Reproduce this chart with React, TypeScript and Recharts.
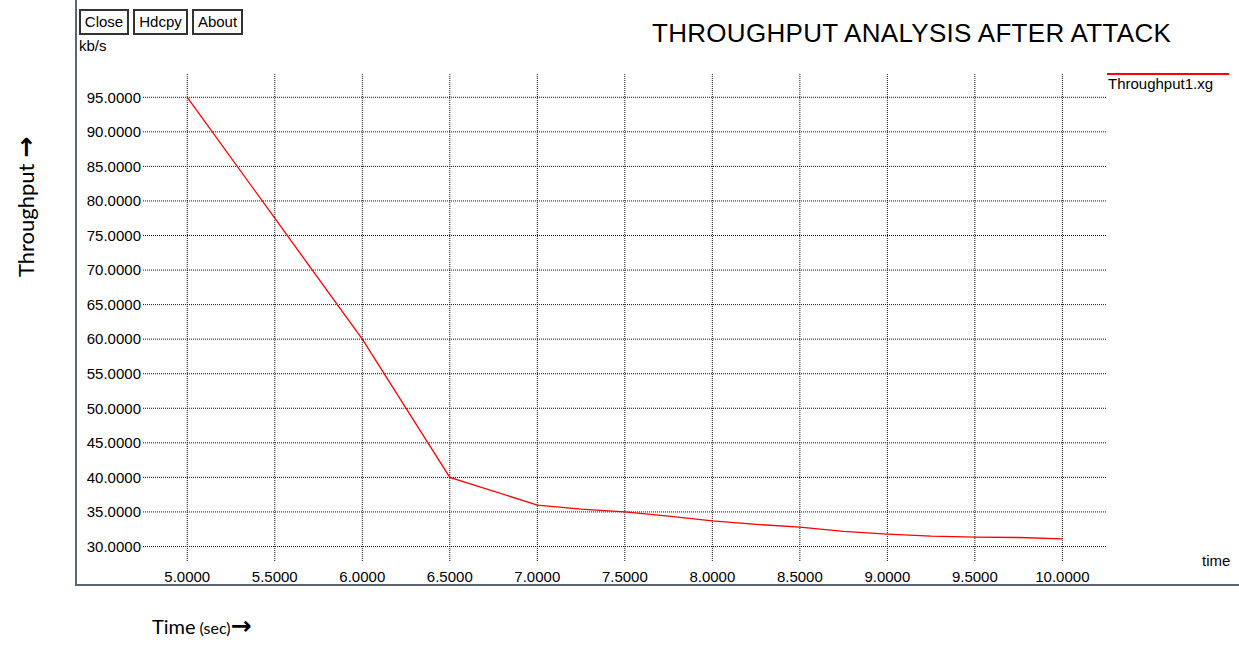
import React from "react";
import { Line, LineChart, ReferenceLine, XAxis, YAxis } from "recharts";

// time (s) and throughput (kb/s)
const times = [5, 5.5, 6, 6.5, 7, 7.25, 7.5, 7.75, 8, 8.25, 8.5, 8.75, 9, 9.25, 9.5, 9.75, 10];
const throughput = [95, 77.5, 60, 40, 36.0, 35.4, 35.0, 34.4, 33.7, 33.2, 32.8, 32.2, 31.8, 31.5, 31.35, 31.3, 31.1];

const xTicks = [5, 5.5, 6, 6.5, 7, 7.5, 8, 8.5, 9, 9.5, 10];
const yTicks = [30, 35, 40, 45, 50, 55, 60, 65, 70, 75, 80, 85, 90, 95];
const seriesName = "Throughput1.xg";
const buttons = ["Close", "Hdcpy", "About"];

const data = times.map((t, i) => ({ t, v: throughput[i] }));

const XG_FONT = "'Liberation Sans', Arial, sans-serif";
const DOC_FONT = "Lato, 'Open Sans', sans-serif";
const ARROW_FONT = "'DejaVu Sans', sans-serif";

export default function App() {
  return (
    <div
      style={{
        position: "absolute",
        left: 0,
        top: 0,
        width: 1239,
        height: 654,
        background: "#fff",
        overflow: "hidden",
      }}
    >
      {/* xgraph window frame */}
      <div style={{ position: "absolute", left: 75, top: 0, width: 2, height: 586, background: "#5c6670" }} />
      <div style={{ position: "absolute", left: 75, top: 584, width: 1164, height: 2, background: "#5c6670" }} />

      {buttons.map((b, i) => (
        <div
          key={b}
          style={{
            position: "absolute",
            left: [79, 133, 192][i],
            top: 9,
            width: [50, 55, 51][i],
            height: 26,
            boxSizing: "border-box",
            border: "2px solid #333",
            fontFamily: XG_FONT,
            fontSize: 15,
            lineHeight: "22px",
            textAlign: "center",
            color: "#000",
          }}
        >
          {b}
        </div>
      ))}

      <div style={{ position: "absolute", left: 79, top: 37, fontFamily: XG_FONT, fontSize: 15, color: "#000" }}>
        kb/s
      </div>
      <div
        style={{
          position: "absolute",
          left: 652,
          top: 18,
          fontFamily: XG_FONT,
          fontSize: 26,
          letterSpacing: 0.3,
          color: "#000",
          whiteSpace: "nowrap",
        }}
      >
        THROUGHPUT ANALYSIS AFTER ATTACK
      </div>
      <div style={{ position: "absolute", left: 1202, top: 552, fontFamily: XG_FONT, fontSize: 15, color: "#000" }}>
        time
      </div>

      {/* legend */}
      <div style={{ position: "absolute", left: 1107, top: 73, width: 122, height: 2, background: "#ff0000" }} />
      <div style={{ position: "absolute", left: 1108, top: 75, fontFamily: XG_FONT, fontSize: 15, color: "#000" }}>
        {seriesName}
      </div>

      <LineChart
        width={1239}
        height={654}
        data={data}
        margin={{ top: 74, right: 132, bottom: 63, left: 0 }}
        style={{ position: "absolute", left: 0, top: 0 }}
      >
        <XAxis
          dataKey="t"
          type="number"
          domain={[4.747, 10.255]}
          ticks={xTicks}
          tickFormatter={(v: number) => v.toFixed(4)}
          allowDataOverflow
          height={30}
          axisLine={false}
          tickLine={false}
          tickSize={0}
          tickMargin={10}
          tick={{ fill: "#000", fontSize: 15, fontFamily: XG_FONT }}
          interval={0}
        />
        <YAxis
          type="number"
          domain={[27.9, 98.37]}
          ticks={yTicks}
          tickFormatter={(v: number) => v.toFixed(4)}
          allowDataOverflow
          width={143}
          axisLine={false}
          tickLine={false}
          tickSize={0}
          tickMargin={2}
          tick={{ fill: "#000", fontSize: 15, fontFamily: XG_FONT }}
          interval={0}
        />
        {/* xgraph dotted grid, one line per tick */}
        {yTicks.map((v) => (
          <ReferenceLine key={`y${v}`} y={v} stroke="#111" strokeDasharray="1 1" />
        ))}
        {xTicks.map((v) => (
          <ReferenceLine key={`x${v}`} x={v} stroke="#111" strokeDasharray="1 1" />
        ))}
        <Line
          type="linear"
          dataKey="v"
          name={seriesName}
          stroke="#ff0000"
          strokeWidth={1.3}
          dot={false}
          isAnimationActive={false}
        />
      </LineChart>

      {/* labels pasted round the screenshot */}
      <div
        style={{
          position: "absolute",
          left: 25,
          top: 207,
          transform: "translate(-50%, -50%) rotate(-90deg)",
          fontFamily: DOC_FONT,
          fontSize: 22,
          color: "#000",
          whiteSpace: "nowrap",
        }}
      >
        Throughput <span style={{ fontFamily: ARROW_FONT, fontWeight: "bold", fontSize: 25 }}>{"\u2192"}</span>
      </div>
      <div
        style={{
          position: "absolute",
          left: 152,
          top: 611,
          fontFamily: DOC_FONT,
          fontSize: 20,
          color: "#000",
          whiteSpace: "nowrap",
        }}
      >
        Time<span style={{ fontSize: 16, marginLeft: 4 }}>(sec)</span>
        <span style={{ fontFamily: ARROW_FONT, fontWeight: "bold", fontSize: 25 }}>{"\u2192"}</span>
      </div>
    </div>
  );
}
